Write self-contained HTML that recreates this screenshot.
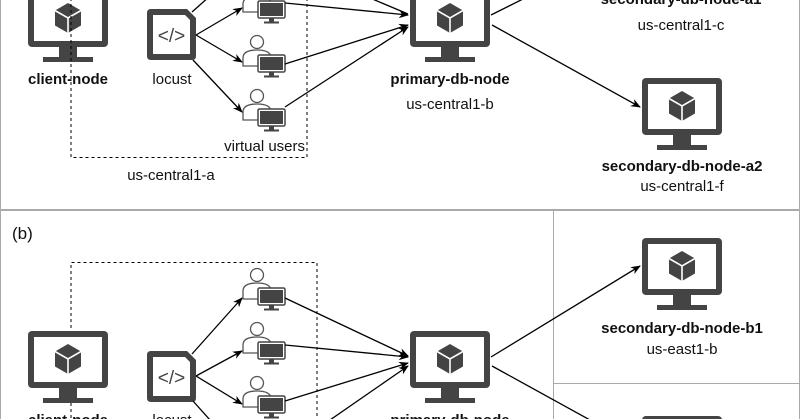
<!DOCTYPE html>
<html><head><meta charset="utf-8"><style>
html,body{margin:0;padding:0;background:#fff;width:800px;height:419px;overflow:hidden;}
svg{display:block;}
text{font-family:"Liberation Sans",Arial,sans-serif;font-size:15px;fill:#111;}
.b{font-weight:bold;}
</style></head><body>
<svg width="800" height="419" viewBox="0 0 800 419" xmlns="http://www.w3.org/2000/svg">
<defs>
<marker id="ar" markerWidth="10" markerHeight="10" refX="9" refY="5" orient="auto" markerUnits="userSpaceOnUse">
<path d="M0,1 L10,5 L0,9 L3,5 Z" fill="#000"/></marker>
<g id="mon">
<rect x="0" y="0" width="80" height="57" rx="4" fill="#444"/>
<rect x="6" y="6" width="68" height="45" fill="#fff"/>
<rect x="31" y="57" width="18" height="11" fill="#444"/>
<rect x="15" y="67" width="50" height="5" fill="#444"/>
<g transform="translate(40,28)">
<path d="M0,-15 L13,-7.5 L13,7.5 L0,15 L-13,7.5 L-13,-7.5 Z" fill="#444"/>
<path d="M-13,-7.5 L0,0 L13,-7.5 M0,0 L0,15" stroke="#fff" stroke-width="1.6" fill="none"/>
</g>
</g>
<g id="usr">
<circle cx="0" cy="0" r="6.5" fill="#fff" stroke="#555" stroke-width="1.3"/>
<path d="M-14,24 L-14,16 Q-14,8 0,8 Q14,8 14,16 L14,24 Z" fill="#fff" stroke="#555" stroke-width="1.3"/>
<rect x="1" y="13" width="27" height="17" rx="1.5" fill="#fff" stroke="#444" stroke-width="1.5"/>
<rect x="3" y="15" width="23" height="13" fill="#444"/>
<rect x="12" y="30" width="5" height="4" fill="#444"/>
<rect x="7" y="33.5" width="15" height="2" fill="#444"/>
</g>
<g id="loc">
<path d="M4,0 L40,0 L49,9 L49,47 Q49,51 45,51 L4,51 Q0,51 0,47 L0,4 Q0,0 4,0 Z" fill="#444"/>
<path d="M6,6 L38,6 L43,11 L43,45 L6,45 Z" fill="#fff"/>
<text x="24.5" y="33" text-anchor="middle" style="font-size:19px;fill:#444">&lt;/&gt;</text>
</g>
</defs>

<rect x="0.5" y="-5" width="799" height="214.5" fill="none" stroke="#aaa"/>
<rect x="0.5" y="210.5" width="799" height="215" fill="none" stroke="#aaa"/>
<line x1="553.5" y1="210" x2="553.5" y2="419" stroke="#aaa"/>
<line x1="553" y1="383.5" x2="800" y2="383.5" stroke="#aaa"/>

<!-- (a) -->
<use href="#mon" x="28" y="-10"/>
<text x="68" y="84" text-anchor="middle" class="b">client-node</text>
<use href="#loc" x="147" y="9"/>
<text x="172" y="84" text-anchor="middle">locust</text>
<path d="M71,-2 L71,157.5 L307,157.5 L307,-2" fill="none" stroke="#000" stroke-dasharray="3,3"/>
<text x="305" y="151" text-anchor="end">virtual users</text>
<text x="171" y="180" text-anchor="middle">us-central1-a</text>

<use href="#usr" x="257" y="-12"/>
<use href="#usr" x="257" y="42"/>
<use href="#usr" x="257" y="96"/>
<line x1="192" y1="12" x2="210" y2="-4" stroke="#000" stroke-width="1.3"/>
<line x1="196" y1="35" x2="242" y2="8" stroke="#000" stroke-width="1.3" marker-end="url(#ar)"/>
<line x1="196" y1="35" x2="242" y2="62" stroke="#000" stroke-width="1.3" marker-end="url(#ar)"/>
<line x1="193" y1="60" x2="242" y2="112" stroke="#000" stroke-width="1.3" marker-end="url(#ar)"/>
<line x1="285" y1="3" x2="408" y2="15" stroke="#000" stroke-width="1.3" marker-end="url(#ar)"/>
<line x1="285" y1="64" x2="408" y2="25" stroke="#000" stroke-width="1.3" marker-end="url(#ar)"/>
<line x1="285" y1="107" x2="408" y2="27" stroke="#000" stroke-width="1.3" marker-end="url(#ar)"/>
<line x1="370" y1="-2" x2="408" y2="14" stroke="#000" stroke-width="1.3"/>

<use href="#mon" x="410" y="-10"/>
<text x="450" y="84" text-anchor="middle" class="b">primary-db-node</text>
<text x="450" y="109" text-anchor="middle">us-central1-b</text>
<line x1="491" y1="15" x2="525" y2="-2" stroke="#000" stroke-width="1.3"/>
<line x1="492" y1="25" x2="640" y2="107" stroke="#000" stroke-width="1.3" marker-end="url(#ar)"/>

<text x="681" y="4" text-anchor="middle" class="b">secondary-db-node-a1</text>
<text x="681" y="30" text-anchor="middle">us-central1-c</text>

<use href="#mon" x="642" y="78"/>
<text x="682" y="171" text-anchor="middle" class="b">secondary-db-node-a2</text>
<text x="682" y="191" text-anchor="middle">us-central1-f</text>

<!-- (b) -->
<text x="12" y="239" style="font-size:17px">(b)</text>
<path d="M71,430 L71,262.5 L317,262.5 L317,430" fill="none" stroke="#000" stroke-dasharray="3,3"/>
<use href="#mon" x="28" y="331"/>
<text x="68" y="425" text-anchor="middle" class="b">client-node</text>
<use href="#loc" x="147" y="351"/>
<text x="172" y="425" text-anchor="middle">locust</text>

<use href="#usr" x="257" y="275"/>
<use href="#usr" x="257" y="329"/>
<use href="#usr" x="257" y="383"/>
<line x1="192" y1="354" x2="242" y2="298" stroke="#000" stroke-width="1.3" marker-end="url(#ar)"/>
<line x1="196" y1="376" x2="242" y2="351" stroke="#000" stroke-width="1.3" marker-end="url(#ar)"/>
<line x1="196" y1="376" x2="242" y2="404" stroke="#000" stroke-width="1.3" marker-end="url(#ar)"/>
<line x1="193" y1="401" x2="210" y2="420" stroke="#000" stroke-width="1.3"/>
<line x1="285" y1="298" x2="408" y2="356" stroke="#000" stroke-width="1.3" marker-end="url(#ar)"/>
<line x1="285" y1="345" x2="408" y2="357" stroke="#000" stroke-width="1.3" marker-end="url(#ar)"/>
<line x1="285" y1="401" x2="408" y2="363" stroke="#000" stroke-width="1.3" marker-end="url(#ar)"/>
<line x1="330" y1="420" x2="408" y2="366" stroke="#000" stroke-width="1.3" marker-end="url(#ar)"/>

<use href="#mon" x="410" y="331"/>
<text x="450" y="425" text-anchor="middle" class="b">primary-db-node</text>
<line x1="491" y1="357" x2="640" y2="266" stroke="#000" stroke-width="1.3" marker-end="url(#ar)"/>
<line x1="492" y1="366" x2="590" y2="420" stroke="#000" stroke-width="1.3"/>

<use href="#mon" x="642" y="238"/>
<text x="682" y="333" text-anchor="middle" class="b">secondary-db-node-b1</text>
<text x="682" y="354" text-anchor="middle">us-east1-b</text>
<use href="#mon" x="642" y="416"/>
</svg>
</body></html>
